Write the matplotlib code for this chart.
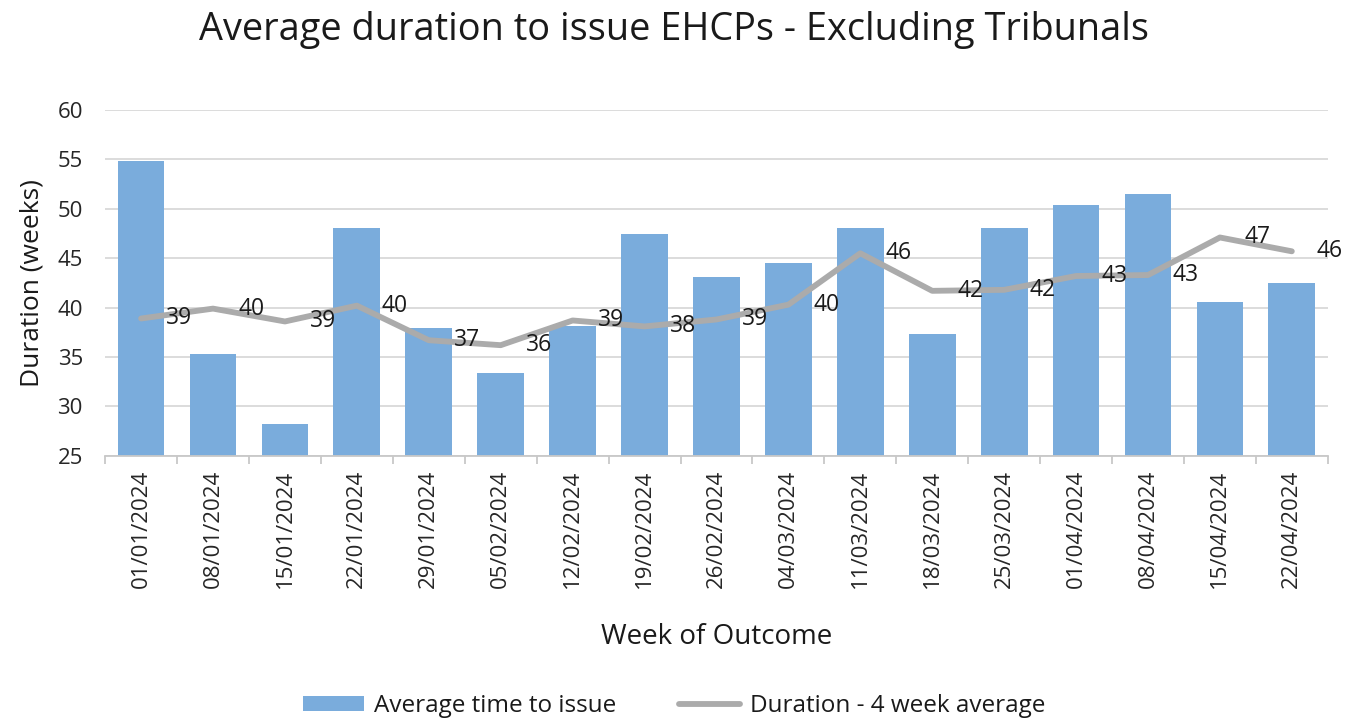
import numpy as np
import matplotlib
matplotlib.use("Agg")
from matplotlib import pyplot as plt

plt.rcParams['font.family'] = ['Open Sans', 'DejaVu Sans']

weeks = ["01/01/2024", "08/01/2024", "15/01/2024", "22/01/2024", "29/01/2024",
         "05/02/2024", "12/02/2024", "19/02/2024", "26/02/2024", "04/03/2024",
         "11/03/2024", "18/03/2024", "25/03/2024", "01/04/2024", "08/04/2024",
         "15/04/2024", "22/04/2024"]
avg_time = [54.8, 35.3, 28.2, 48.1, 37.9, 33.4, 38.1, 47.5, 43.1, 44.5,
            48.1, 37.3, 48.1, 50.4, 51.5, 40.6, 42.5]
avg_4wk = [38.9, 39.9, 38.6, 40.2, 36.7, 36.2, 38.7, 38.1, 38.8, 40.3,
           45.5, 41.7, 41.8, 43.2, 43.3, 47.1, 45.7]

bar_color = "#7AACDC"
line_color = "#ABABAB"
text_color = "#1a1a1a"

fig = plt.figure(figsize=(13.48, 7.19), dpi=100)
ax = fig.add_axes([0.078, 0.366, 0.907, 0.481])

x = np.arange(len(weeks))
bars = ax.bar(x, avg_time, width=0.65, color=bar_color, zorder=2)
line, = ax.plot(x, avg_4wk, color=line_color, lw=4.2, zorder=3, solid_capstyle="round")

# data labels to the right of the line points (Excel "right" position)
for xi, v in zip(x, avg_4wk):
    ax.annotate(f"{v:.0f}", (xi, v), xytext=(18, 0), textcoords="offset points",
                ha="left", va="center", fontsize=16.5, color=text_color, zorder=4)

ax.set_xlim(-0.5, len(weeks) - 0.5)
ax.set_ylim(25, 60)
ax.set_yticks(range(25, 61, 5))
ax.grid(axis="y", color="#d9d9d9", lw=1.3, zorder=0)
ax.set_axisbelow(True)

ax.set_xticks(x)
ax.set_xticklabels(weeks, rotation=90, fontsize=16, color="#262626")
ax.tick_params(axis="x", length=0, pad=10)
ax.set_xticks(np.arange(-0.5, len(weeks)), minor=True)
ax.tick_params(axis="x", which="minor", length=6, color="#c8c8c8", width=1.3)
ax.tick_params(axis="y", length=0, labelsize=16, labelcolor="#262626", pad=16)

for s in ["top", "right", "left"]:
    ax.spines[s].set_visible(False)
ax.spines["bottom"].set_color("#c8c8c8")
ax.spines["bottom"].set_linewidth(1.3)

ax.set_ylabel("Duration (weeks)", fontsize=19, color=text_color, labelpad=9)
ax.set_xlabel("Week of Outcome", fontsize=20, color=text_color, labelpad=25)
fig.text(0.5, 0.958, "Average duration to issue EHCPs - Excluding Tribunals",
         fontsize=27.3, color=text_color, ha="center", va="center")

fig.legend([bars, line], ["Average time to issue", "Duration - 4 week average"],
           loc="center", ncol=2, frameon=False, fontsize=17.5,
           bbox_to_anchor=(0.5, 0.018), handlelength=2.5, handleheight=0.6,
           handletextpad=0.4, columnspacing=2.6, labelcolor=text_color)

fig.savefig("out.png", dpi=100)
